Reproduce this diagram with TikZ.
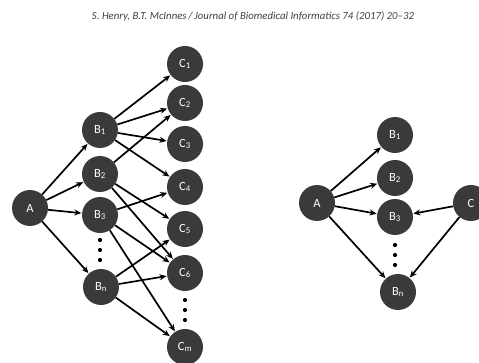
\documentclass[tikz,border=0pt]{standalone}
\usepackage{fontspec}
\setmainfont{Carlito}
\usetikzlibrary{arrows.meta}
\definecolor{nodefill}{HTML}{3A3A3A}
\definecolor{headgray}{HTML}{404040}
\newcommand{\sbs}[1]{\textsubscript{#1}}
\tikzset{
  vert/.style={circle, fill=nodefill, text=white, minimum size=36pt, inner sep=0pt, font=\fontsize{12.5}{14}\selectfont},
  edge/.style={-{Stealth[length=7pt,width=6pt]}, line width=1.7pt, black, shorten >=0.5pt},
  dot/.style={circle, fill=black, inner sep=0pt, minimum size=4.2pt},
}
\begin{document}
\begin{tikzpicture}[x=1pt,y=-1pt]
\useasboundingbox (0,0) rectangle (479,363);
\clip (0,0) rectangle (479,363);
\node[font=\itshape\fontsize{10.8}{12}\selectfont, text=headgray] (hdr) at (253,16) {S. Henry, B.T. McInnes\,/\,Journal of Biomedical Informatics 74 (2017) 20--32};
% left graph
\node[vert] (A) at (30,208) {A};
\node[vert] (B1) at (100,130) {B\sbs{1}};
\node[vert] (B2) at (100,174) {B\sbs{2}};
\node[vert] (B3) at (100,215) {B\sbs{3}};
\node[vert] (Bn) at (101,287) {B\sbs{n}};
\node[vert] (C1) at (185,64) {C\sbs{1}};
\node[vert] (C2) at (185,103) {C\sbs{2}};
\node[vert] (C3) at (185,144) {C\sbs{3}};
\node[vert] (C4) at (185,187) {C\sbs{4}};
\node[vert] (C5) at (185,229) {C\sbs{5}};
\node[vert] (C6) at (185,273) {C\sbs{6}};
\node[vert] (Cm) at (185,347) {C\sbs{m}};
\node[dot] (d1) at (100,240) {};
\node[dot] (d2) at (100,250) {};
\node[dot] (d3) at (100,260) {};
\node[dot] (d4) at (185,300) {};
\node[dot] (d5) at (185,310) {};
\node[dot] (d6) at (185,320) {};
\foreach \b in {B1,B2,B3,Bn} \draw[edge] (A) -- (\b);
\foreach \c in {C1,C2,C3,C4} \draw[edge] (B1) -- (\c);
\foreach \c in {C2,C5,C6} \draw[edge] (B2) -- (\c);
\foreach \c in {C4,C6,Cm} \draw[edge] (B3) -- (\c);
\foreach \c in {C5,C6,Cm} \draw[edge] (Bn) -- (\c);
% right graph
\node[vert] (RA) at (317,203) {A};
\node[vert] (RB1) at (395,135) {B\sbs{1}};
\node[vert] (RB2) at (395,178) {B\sbs{2}};
\node[vert] (RB3) at (395,217) {B\sbs{3}};
\node[vert] (RBn) at (398,292) {B\sbs{n}};
\node[vert] (RC) at (471,203) {C};
\node[dot] (r1) at (395,245) {};
\node[dot] (r2) at (395,255) {};
\node[dot] (r3) at (395,265) {};
\foreach \b in {RB1,RB2,RB3,RBn} \draw[edge] (RA) -- (\b);
\draw[edge] (RC) -- (RB3);
\draw[edge] (RC) -- (RBn);
\end{tikzpicture}
\end{document}
